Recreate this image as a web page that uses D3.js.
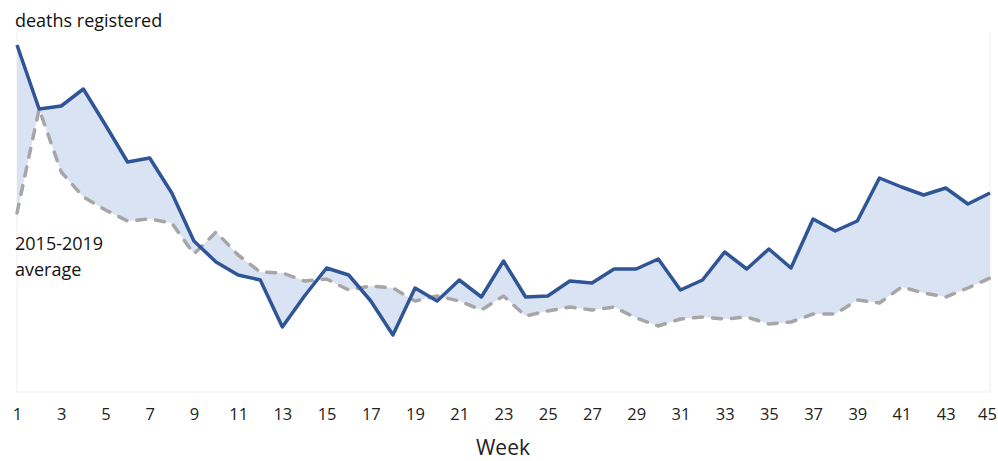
<!DOCTYPE html>
<html lang="en">
<head>
    <meta charset="UTF-8">
    <title>Deaths registered vs 2015-2019 average</title>
    <script src="https://d3js.org/d3.v7.min.js"></script>
    <style>
        body {
            margin: 0;
            background: #fff;
            font-family: 'Open Sans', sans-serif;
        }
        .tick text {
            font-size: 16.5px;
            fill: #222;
        }
    </style>
</head>
<body>
    <div id="chart"></div>
    <script>
        // weeks 1..45
        const weeks = d3.range(1, 46);
        const tickWeeks = d3.range(1, 46, 2);

        // values (relative units, bottom of plot = 0)
        const deaths = [347, 283, 286, 303, 267, 230, 234, 199, 151, 130,
                        117, 112, 65, 96, 124, 117, 91, 57, 104, 91,
                        112, 95, 131, 95, 96, 111, 109, 123, 123, 133,
                        102, 112, 140, 123, 143, 124, 173, 161, 171, 214,
                        205, 197, 204, 188, 199];
        const average = [179, 283, 220, 195, 182, 171, 173, 169, 138, 160,
                         137, 120, 119, 111, 113, 102, 106, 104, 91, 96,
                         91, 82, 96, 76, 81, 85, 82, 85, 74, 66,
                         73, 75, 73, 75, 68, 70, 78, 78, 92, 89,
                         105, 99, 95, 104, 114];

        const width = 998, height = 461;

        const data = weeks.map((w, i) => ({week: w, deaths: deaths[i], avg: average[i]}));

        const svg = d3.select("#chart")
            .append("svg")
            .attr("width", width)
            .attr("height", height);

        const x = d3.scaleLinear().domain([1, 45]).range([17, 990]);
        const y = d3.scaleLinear().domain([0, 347]).range([392, 45]);

        // faint plot border
        svg.append("path")
            .attr("d", `M${x(1)},${y(360)}V${y(0)}H${x(45)}V${y(360)}`)
            .attr("fill", "none")
            .attr("stroke", "#eeeeee")
            .attr("stroke-width", 1);

        // shaded gap between the two lines
        const area = d3.area()
            .x(d => x(d.week))
            .y0(d => y(d.avg))
            .y1(d => y(d.deaths));

        svg.append("path")
            .datum(data)
            .attr("d", area)
            .attr("fill", "#dae3f3");

        const avgLine = d3.line().x(d => x(d.week)).y(d => y(d.avg));
        const deathLine = d3.line().x(d => x(d.week)).y(d => y(d.deaths));

        svg.append("path")
            .datum(data)
            .attr("d", avgLine)
            .attr("fill", "none")
            .attr("stroke", "#a6a6a6")
            .attr("stroke-width", 3.5)
            .attr("stroke-linecap", "round")
            .attr("stroke-linejoin", "round")
            .attr("stroke-dasharray", "9,10");

        svg.append("path")
            .datum(data)
            .attr("d", deathLine)
            .attr("fill", "none")
            .attr("stroke", "#2f5597")
            .attr("stroke-width", 3.5)
            .attr("stroke-linejoin", "round");

        // x axis
        const xAxis = svg.append("g")
            .attr("transform", `translate(0,${y(0)})`)
            .call(d3.axisBottom(x).tickValues(tickWeeks).tickSize(0).tickPadding(16).tickFormat(d3.format("d")));
        xAxis.select(".domain").remove();
        xAxis.selectAll("text").attr("font-family", "'Open Sans', sans-serif");
        xAxis.selectAll("text").filter(d => d === 45).attr("dx", -3);

        svg.append("text")
            .attr("x", 503)
            .attr("y", 455)
            .attr("text-anchor", "middle")
            .attr("font-size", 21)
            .attr("fill", "#222")
            .text("Week");

        // labels
        svg.append("text")
            .attr("x", 15)
            .attr("y", 27)
            .attr("font-size", 18)
            .attr("fill", "#111")
            .text("deaths registered");

        const avgLabel = svg.append("text")
            .attr("x", 15)
            .attr("y", 250)
            .attr("font-size", 18)
            .attr("fill", "#111");
        avgLabel.append("tspan").attr("x", 15).text("2015-2019");
        avgLabel.append("tspan").attr("x", 15).attr("dy", 26).text("average");
    </script>
</body>
</html>
